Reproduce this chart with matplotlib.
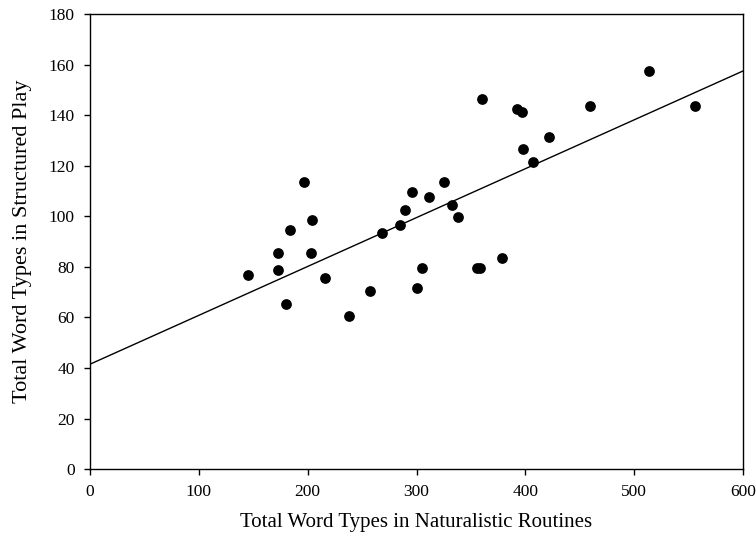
import matplotlib
matplotlib.use("Agg")
import matplotlib.pyplot as plt

naturalistic = [197.0, 204.0, 184.1, 172.5, 203.1, 172.5, 145.2, 216.3, 180.1, 238.1,
                360.3, 392.7, 396.7, 421.3, 397.4, 407.2, 325.4, 296.0, 311.6, 289.5,
                332.4, 338.5, 268.7, 284.9, 304.8, 355.7, 358.0, 378.4, 513.8, 555.4,
                458.9, 257.6, 300.6]
structured = [113.5, 98.4, 94.4, 85.6, 85.6, 78.6, 76.6, 75.7, 65.5, 60.6,
              146.5, 142.4, 141.3, 131.4, 126.5, 121.6, 113.6, 109.5, 107.6, 102.6,
              104.6, 99.6, 93.5, 96.5, 79.6, 79.6, 79.6, 83.5, 157.4, 143.6,
              143.6, 70.5, 71.6]

fit_x = [0, 600]
fit_y = [41.5, 157.5]

x_ticks = [0, 100, 200, 300, 400, 500, 600]
y_ticks = [0, 20, 40, 60, 80, 100, 120, 140, 160, 180]

plt.rcParams['font.family'] = ['Liberation Serif', 'DejaVu Serif']

fig = plt.figure(figsize=(7.56, 5.5), dpi=100)
ax = fig.add_axes([0.119, 0.147, 0.864, 0.8275])

ax.plot(fit_x, fit_y, color='black', linewidth=1.0, zorder=2)
ax.scatter(naturalistic, structured, s=60, color='black', zorder=3, linewidths=0)

ax.set_xlim(0, 600)
ax.set_ylim(0, 180)
ax.set_xticks(x_ticks)
ax.set_yticks(y_ticks)
ax.tick_params(axis='both', direction='out', length=4.5, width=1, labelsize=12.5, pad=6.5)
for sp in ax.spines.values():
    sp.set_linewidth(1.0)

ax.set_xlabel('Total Word Types in Naturalistic Routines', fontsize=15)
ax.xaxis.set_label_coords(0.5, -0.097)
ax.set_ylabel('Total Word Types in Structured Play', fontsize=16)
ax.yaxis.set_label_coords(-0.088, 0.5)

fig.savefig('out.png', dpi=100)
